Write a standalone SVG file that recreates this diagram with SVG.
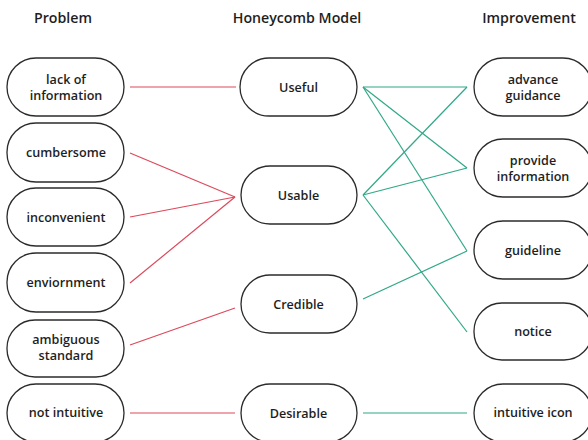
<svg xmlns="http://www.w3.org/2000/svg" width="588" height="440" viewBox="0 0 588 440">
  <style>
    .bg { fill: #ffffff; }
    .node rect { fill: #ffffff; stroke: #2b2b2b; stroke-width: 1.3; }
    .node text, .head { font-family: "Open Sans", "Noto Sans", "Liberation Sans", sans-serif; fill: #1e1e1e; text-anchor: middle; }
    .node text { font-size: 12.6px; font-weight: 600; }
    .head { font-size: 14.2px; font-weight: 600; }
    .red { stroke: #dc4a5c; stroke-width: 1.2; fill: none; }
    .green { stroke: #30a888; stroke-width: 1.2; fill: none; }
  </style>
  <rect class="bg" x="0" y="0" width="588" height="440"/>

  <!-- column headings -->
  <text class="head" x="63" y="23">Problem</text>
  <text class="head" x="297" y="23">Honeycomb Model</text>
  <text class="head" x="529" y="23">Improvement</text>

  <!-- connectors -->
  <g id="connectors">
    <line class="red" x1="130" y1="87" x2="236" y2="87"/>
    <line class="red" x1="130" y1="153" x2="235" y2="197"/>
    <line class="red" x1="130" y1="217" x2="235" y2="197"/>
    <line class="red" x1="130" y1="283" x2="235" y2="197"/>
    <line class="red" x1="130" y1="345" x2="235" y2="308"/>
    <line class="red" x1="130" y1="413" x2="235" y2="413"/>

    <line class="green" x1="363" y1="87" x2="467" y2="87"/>
    <line class="green" x1="363" y1="87" x2="467" y2="168"/>
    <line class="green" x1="363" y1="87" x2="467" y2="251"/>
    <line class="green" x1="363" y1="195" x2="467" y2="87"/>
    <line class="green" x1="363" y1="195" x2="467" y2="168"/>
    <line class="green" x1="363" y1="195" x2="467" y2="332"/>
    <line class="green" x1="363" y1="299" x2="467" y2="251"/>
    <line class="green" x1="363" y1="413" x2="467" y2="413"/>
  </g>

  <!-- problem column -->
  <g id="p-lack" class="node">
    <rect x="7" y="58" width="117" height="58" rx="29"/>
    <text x="66" y="84">lack of</text>
    <text x="66" y="100">information</text>
  </g>
  <g id="p-cumbersome" class="node">
    <rect x="7" y="123" width="117" height="59" rx="29"/>
    <text x="66" y="157">cumbersome</text>
  </g>
  <g id="p-inconvenient" class="node">
    <rect x="7" y="188" width="117" height="58" rx="29"/>
    <text x="66" y="222">inconvenient</text>
  </g>
  <g id="p-enviornment" class="node">
    <rect x="7" y="253" width="117" height="59" rx="29"/>
    <text x="66" y="287">enviornment</text>
  </g>
  <g id="p-ambiguous" class="node">
    <rect x="7" y="320" width="117" height="57" rx="28"/>
    <text x="66" y="344">ambiguous</text>
    <text x="66" y="360">standard</text>
  </g>
  <g id="p-notintuitive" class="node">
    <rect x="7" y="384" width="117" height="58" rx="29"/>
    <text x="66" y="417">not intuitive</text>
  </g>

  <!-- honeycomb model column -->
  <g id="m-useful" class="node">
    <rect x="240" y="58" width="117" height="58" rx="29"/>
    <text x="298.5" y="92">Useful</text>
  </g>
  <g id="m-usable" class="node">
    <rect x="241" y="166" width="116" height="58" rx="29"/>
    <text x="298.5" y="200">Usable</text>
  </g>
  <g id="m-credible" class="node">
    <rect x="241" y="275" width="116" height="58" rx="29"/>
    <text x="298.5" y="309">Credible</text>
  </g>
  <g id="m-desirable" class="node">
    <rect x="241" y="384" width="116" height="58" rx="29"/>
    <text x="298.5" y="418">Desirable</text>
  </g>

  <!-- improvement column -->
  <g id="i-advance" class="node">
    <rect x="474" y="58" width="118" height="58" rx="29"/>
    <text x="533" y="84">advance</text>
    <text x="533" y="100">guidance</text>
  </g>
  <g id="i-provide" class="node">
    <rect x="474" y="139" width="118" height="58" rx="29"/>
    <text x="533" y="165">provide</text>
    <text x="533" y="181">information</text>
  </g>
  <g id="i-guideline" class="node">
    <rect x="474" y="221" width="118" height="58" rx="29"/>
    <text x="533" y="255">guideline</text>
  </g>
  <g id="i-notice" class="node">
    <rect x="474" y="303" width="118" height="57" rx="28"/>
    <text x="533" y="336">notice</text>
  </g>
  <g id="i-icon" class="node">
    <rect x="474" y="384" width="118" height="58" rx="29"/>
    <text x="533" y="417">intuitive icon</text>
  </g>
</svg>
